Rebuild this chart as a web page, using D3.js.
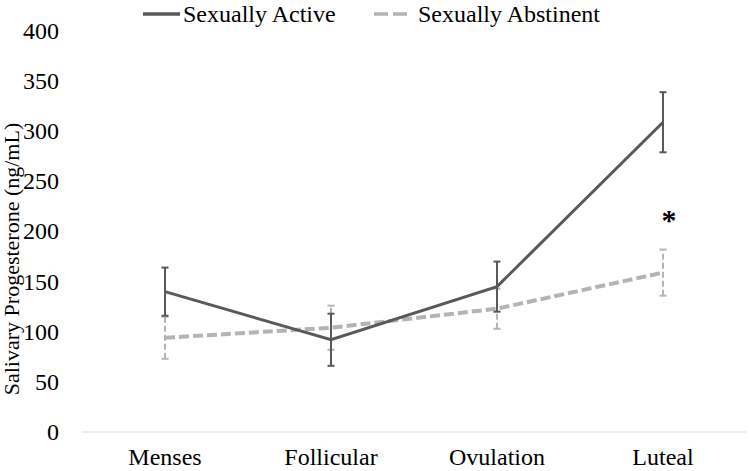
<!DOCTYPE html>
<html><head><meta charset="utf-8">
<script src="https://cdn.jsdelivr.net/npm/d3@7"></script>
<style>body{margin:0;background:#fff}svg{display:block}text{font-family:"Liberation Serif","Times New Roman",serif}</style>
</head><body>
<svg id="c" width="750" height="471"></svg>
<script>
const categories = ["Menses","Follicular","Ovulation","Luteal"];
const activeMean = [140, 92, 145, 309];
const activeErr  = [24, 26, 25, 30];
const abstMean   = [94, 104, 123, 159];
const abstErr    = [21, 22, 20, 23];
const yTicks = [0,50,100,150,200,250,300,350,400];
const seriesNames = ["Sexually Active","Sexually Abstinent"];

const svg = d3.select("#c");
const x = d3.scaleBand().domain(categories).range([82,746]);
const y = d3.scaleLinear().domain([0,400]).range([432,31]);
const cx = c => x(c) + x.bandwidth()/2;

svg.append("line").attr("x1",82).attr("x2",746).attr("y1",y(0)).attr("y2",y(0))
  .attr("stroke","#d9d9d9").attr("stroke-width",1);

svg.selectAll(".yt").data(yTicks).enter().append("text")
  .attr("x",59).attr("y",d=>y(d)).attr("dy","0.33em").attr("text-anchor","end")
  .attr("font-size",24).attr("fill","#000").text(d=>d);

svg.selectAll(".xt").data(categories).enter().append("text")
  .attr("x",d=>cx(d)).attr("y",465).attr("text-anchor","middle")
  .attr("font-size",24).attr("fill","#000").text(d=>d);

svg.append("text").attr("transform","translate(19,259) rotate(-90)")
  .attr("text-anchor","middle").attr("font-size",22).attr("fill","#000")
  .text("Salivary Progesterone (ng/mL)");

const series = [
  {name:seriesNames[1], mean:abstMean, err:abstErr, color:"#b4b4b4", dash:"10,4", w:4},
  {name:seriesNames[0], mean:activeMean, err:activeErr, color:"#595959", dash:null, w:3}
];
const line = d3.line().x(d=>cx(d.c)).y(d=>y(d.v));

series.forEach(s=>{
  const pts = categories.map((c,i)=>({c, v:s.mean[i], e:s.err[i]}));
  const g = svg.append("g");
  pts.forEach(p=>{
    g.append("line").attr("x1",cx(p.c)).attr("x2",cx(p.c))
      .attr("y1",y(p.v-p.e)).attr("y2",y(p.v+p.e))
      .attr("stroke",s.color).attr("stroke-width",2)
      .attr("stroke-dasharray", s.dash ? "6,3" : null);
    [p.v-p.e,p.v+p.e].forEach(v=>{
      g.append("line").attr("x1",cx(p.c)-3.5).attr("x2",cx(p.c)+3.5)
        .attr("y1",y(v)).attr("y2",y(v)).attr("stroke",s.color).attr("stroke-width",2);
    });
  });
  g.append("path").datum(pts).attr("d",line).attr("fill","none")
    .attr("stroke",s.color).attr("stroke-width",s.w)
    .attr("stroke-dasharray",s.dash);
});

svg.append("text").attr("x",cx("Luteal")+6).attr("y",230).attr("text-anchor","middle")
  .attr("font-size",30).attr("font-weight","bold").attr("fill","#000").text("*");

const leg = [
  {name:seriesNames[0], color:"#595959", dash:null, x1:143, x2:180, tx:183},
  {name:seriesNames[1], color:"#b4b4b4", dash:"14,5", x1:374, x2:407, tx:418}
];
leg.forEach(l=>{
  svg.append("line").attr("x1",l.x1).attr("x2",l.x2).attr("y1",14).attr("y2",14)
    .attr("stroke",l.color).attr("stroke-width",3.5).attr("stroke-dasharray",l.dash);
  svg.append("text").attr("x",l.tx).attr("y",22)
    .attr("font-size",24).attr("fill","#000").text(l.name);
});
</script>
</body></html>
